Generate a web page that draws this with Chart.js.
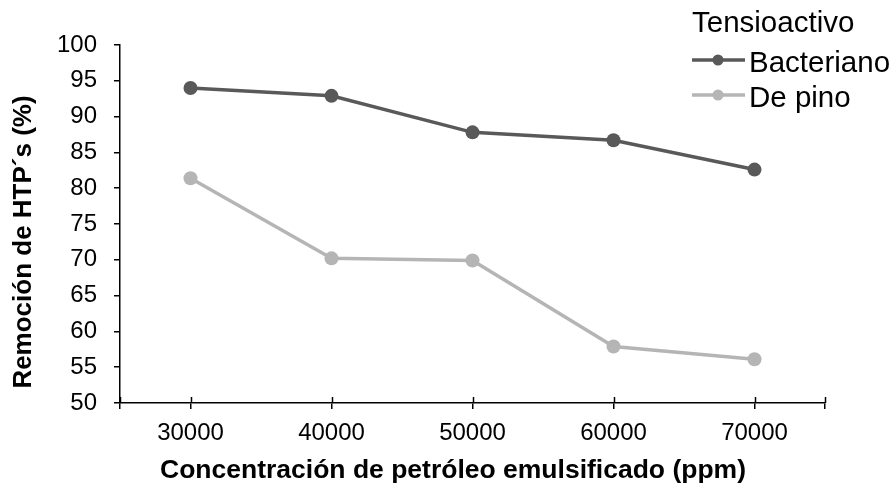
<!DOCTYPE html>
<html>
<head>
<meta charset="utf-8">
<script src="https://cdn.jsdelivr.net/npm/chart.js@4/dist/chart.umd.min.js"></script>
<style>
  html, body { margin: 0; padding: 0; background: #ffffff; }
  #wrap { width: 892px; height: 487px; position: relative; }
</style>
</head>
<body>
<div id="wrap"><canvas id="c" width="892" height="487"></canvas></div>
<script>
const concentrations = [30000, 40000, 50000, 60000, 70000];
const bacteriano = [94.0, 92.9, 87.8, 86.7, 82.6];
const dePino = [81.4, 70.2, 69.9, 57.9, 56.1];
const seriesNames = ['Bacteriano', 'De pino'];
const seriesColors = ['#595959', '#b5b5b5'];
const xTickValues = [25000, 30000, 40000, 50000, 60000, 70000, 75000];
const xLabelValues = [30000, 40000, 50000, 60000, 70000];
const yTickValues = [50, 55, 60, 65, 70, 75, 80, 85, 90, 95, 100];
const legendTitle = 'Tensioactivo';
const xTitle = 'Concentración de petróleo emulsificado (ppm)';
const yTitle = 'Remoción de HTP´s (%)';

const FONT = "'Liberation Sans', Arial, sans-serif";

function toPoints(xs, ys) { return xs.map((x, i) => ({ x: x, y: ys[i] })); }

const crossTicks = {
  id: 'crossTicks',
  afterDraw(chart) {
    const ctx = chart.ctx;
    const xs = chart.scales.x;
    ctx.save();
    ctx.strokeStyle = '#000';
    ctx.lineWidth = 1.5;
    xs.ticks.forEach(t => {
      const px = Math.round(xs.getPixelForValue(t.value)) + 0.5;
      ctx.beginPath();
      ctx.moveTo(px, xs.top - 6);
      ctx.lineTo(px, xs.top);
      ctx.stroke();
    });
    ctx.restore();
  }
};

const axisTitles = {
  id: 'axisTitles',
  afterDraw(chart) {
    const ctx = chart.ctx;
    ctx.save();
    ctx.font = "bold 26.5px " + FONT;
    ctx.fillStyle = '#000';
    ctx.textAlign = 'center';
    ctx.textBaseline = 'middle';
    ctx.fillText(xTitle, 453, 471);
    ctx.translate(24, 242);
    ctx.rotate(-Math.PI / 2);
    ctx.font = "bold 26px " + FONT;
    ctx.fillText(yTitle, 0, 0);
    ctx.restore();
  }
};

const legendPlugin = {
  id: 'customLegend',
  afterDraw(chart) {
    const ctx = chart.ctx;
    ctx.save();
    ctx.fillStyle = '#000';
    ctx.font = "29.5px " + FONT;
    ctx.textBaseline = 'alphabetic';
    ctx.textAlign = 'left';
    ctx.fillText(legendTitle, 692, 32);
    chart.data.datasets.forEach((ds, i) => {
      const cy = 60 + i * 35;
      ctx.strokeStyle = ds.borderColor;
      ctx.lineWidth = 3.5;
      ctx.beginPath();
      ctx.moveTo(692, cy);
      ctx.lineTo(745, cy);
      ctx.stroke();
      ctx.fillStyle = ds.backgroundColor;
      ctx.beginPath();
      ctx.arc(718, cy, 5.5, 0, Math.PI * 2);
      ctx.fill();
      ctx.fillStyle = '#000';
      ctx.textBaseline = 'alphabetic';
      ctx.fillText(ds.label, 749, cy + 12);
    });
    ctx.restore();
  }
};

new Chart(document.getElementById('c'), {
  type: 'line',
  data: {
    datasets: [
      {
        label: seriesNames[0],
        data: toPoints(concentrations, bacteriano),
        borderColor: seriesColors[0],
        backgroundColor: seriesColors[0],
        borderWidth: 3.5,
        pointRadius: 7,
        pointBorderWidth: 0,
        pointHoverRadius: 7
      },
      {
        label: seriesNames[1],
        data: toPoints(concentrations, dePino),
        borderColor: seriesColors[1],
        backgroundColor: seriesColors[1],
        borderWidth: 3.5,
        pointRadius: 7,
        pointBorderWidth: 0,
        pointHoverRadius: 7
      }
    ]
  },
  options: {
    responsive: false,
    animation: false,
    devicePixelRatio: 1,
    layout: { padding: { left: 0, right: 67, top: 45, bottom: 0 } },
    plugins: {
      legend: { display: false },
      tooltip: { enabled: false }
    },
    scales: {
      x: {
        type: 'linear',
        min: 25000,
        max: 75000,
        afterBuildTicks(scale) {
          scale.ticks = xTickValues.map(v => ({ value: v }));
        },
        afterFit(scale) { scale.height = 84; },
        ticks: {
          autoSkip: false,
          maxRotation: 0,
          padding: 10,
          color: '#000',
          font: { family: FONT, size: 24 },
          callback: (v) => xLabelValues.includes(v) ? String(v) : ''
        },
        grid: { drawOnChartArea: false, drawTicks: true, tickLength: 6, color: '#000', lineWidth: 1.5 },
        border: { display: true, color: '#000', width: 1.5 },
        title: { display: false }
      },
      y: {
        min: 50,
        max: 100,
        afterBuildTicks(scale) {
          scale.ticks = yTickValues.map(v => ({ value: v }));
        },
        afterFit(scale) { scale.width = 120; },
        ticks: {
          padding: 17,
          color: '#000',
          font: { family: FONT, size: 24 }
        },
        grid: { drawOnChartArea: false, drawTicks: true, tickLength: 6, color: '#000', lineWidth: 1.5 },
        border: { display: true, color: '#000', width: 1.5 }
      }
    }
  },
  plugins: [crossTicks, axisTitles, legendPlugin]
});
</script>
</body>
</html>
